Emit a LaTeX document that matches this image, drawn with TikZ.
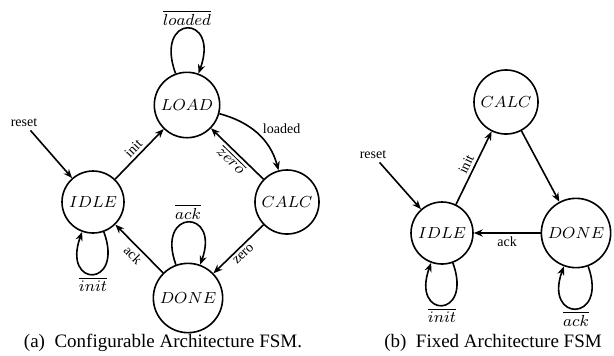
\documentclass[tikz,border=0pt]{standalone}
\usepackage{fontspec}
\setmainfont{Liberation Serif}
\usepackage{tikz}
\usetikzlibrary{calc}
\usetikzlibrary{arrows.meta}

\tikzset{
  state/.style={circle, draw, line width=.8pt, minimum size=31pt, inner sep=2.5pt, font=\fontsize{8.5}{10}\selectfont},
  trans/.style={line width=.8pt, -{Stealth[length=4.5pt,width=3.6pt]}},
  lab/.style={font=\scriptsize, inner sep=1.5pt},
  neg/.style={font=\fontsize{8.5}{10}\selectfont, inner sep=1pt},
  capt/.style={font=\fontsize{9.5}{11}\selectfont},
}

\begin{document}
\begin{tikzpicture} [x=.5pt, y=-.5pt]
\useasboundingbox (0,0) rectangle (614,355);

% (a) configurable architecture
\node[state] (LOAD) at (187,105) {$LOAD$};
\node[state] (IDLE) at (93,202) {$IDLE$};
\node[state] (CALC) at (287,202) {$CALC$};
\node[state] (DONE) at (188,298) {$DONE$};
\node[lab] (rstA) at (24,123) {reset};

\draw[trans] (rstA) -- (IDLE);
\draw[trans] (IDLE) -- node[lab, sloped, above] {init} (LOAD);
\draw[trans] (LOAD) to[out=-15, in=105] node[lab, pos=.4, right, xshift=4pt] {loaded} (CALC);
\draw[trans] (CALC) -- node[neg, sloped, below] {$\overline{zero}$} (LOAD);
\draw[trans] (CALC) -- node[lab, sloped, below] {zero} (DONE);
\draw[trans] (DONE) -- node[lab, sloped, below] {ack} (IDLE);
\draw[trans] (LOAD.110) .. controls +(110:32pt) and +(70:32pt) .. node[neg, above] {$\overline{loaded}$} (LOAD.70);
\draw[trans] (IDLE.290) .. controls +(290:30pt) and +(250:30pt) .. node[neg, below] {$\overline{init}$} (IDLE.250);
\draw[trans] (DONE.110) .. controls +(110:30pt) and +(70:30pt) .. node[neg, above] {$\overline{ack}$} (DONE.70);

% (b) fixed architecture
\node[state] (CALCb) at (506,102) {$CALC$};
\node[state] (IDLEb) at (442,233) {$IDLE$};
\node[state] (DONEb) at (576,233) {$DONE$};
\node[lab] (rstB) at (373,155) {reset};

\draw[trans] (rstB) -- (IDLEb);
\draw[trans] (IDLEb) -- node[lab, sloped, above] {init} (CALCb);
\draw[trans] (CALCb) -- (DONEb);
\draw[trans] (DONEb) -- node[lab, below] {ack} (IDLEb);
\draw[trans] (IDLEb.290) .. controls +(290:30pt) and +(250:30pt) .. node[neg, below] {$\overline{init}$} (IDLEb.250);
\draw[trans] (DONEb.290) .. controls +(290:30pt) and +(250:30pt) .. node[neg, below] {$\overline{ack}$} (DONEb.250);

\node[capt] (capA) at (163,343) {(a)~ Configurable Architecture FSM.};
\node[capt] (capB) at (493,343) {(b)~ Fixed Architecture FSM};

\end{tikzpicture}
\end{document}
